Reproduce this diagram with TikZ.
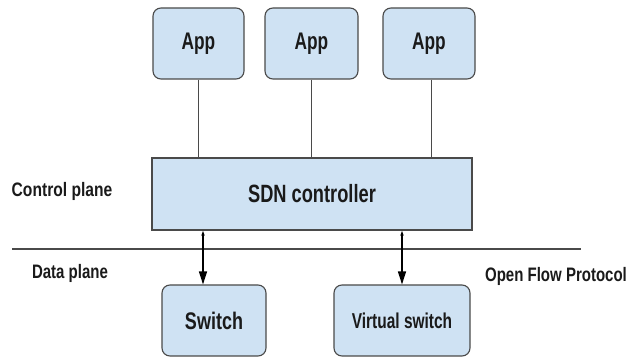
\documentclass[tikz,border=0pt]{standalone}
\usepackage{fontspec}
\setmainfont{Liberation Sans}
\usepackage{graphicx}
\usetikzlibrary{arrows.meta}

\definecolor{boxfill}{HTML}{CFE2F3}
\definecolor{boxline}{HTML}{4A4A4A}
\definecolor{labeltext}{HTML}{1A1A1A}

% bold, condensed text: size, horizontal scale, text
\newcommand{\sdnlabel}[3]{\scalebox{#2}[1]{\fontsize{#1}{#1}\selectfont\bfseries #3}}

\begin{document}
\begin{tikzpicture}[x=1pt,y=-1pt,
  appbox/.style={draw=boxline, fill=boxfill, line width=1.1pt, rounded corners=8pt,
    inner sep=0pt, text=labeltext, minimum height=71pt},
  ctrlbox/.style={draw=boxline, fill=boxfill, line width=1.1pt,
    inner sep=0pt, text=labeltext, minimum width=320pt, minimum height=72pt},
  plane/.style={text=labeltext, inner sep=0pt},
  applink/.style={draw=boxline, line width=0.7pt},
  flow/.style={line width=1.4pt, {Triangle[length=5pt,width=3pt]}-{Triangle[length=13pt,width=8pt]}}]
\useasboundingbox (0,0) rectangle (633,358);

% applications
\node[appbox, minimum width=91pt] (app1) at (198.5,43.5) {\sdnlabel{24}{0.72}{App}};
\node[appbox, minimum width=93pt] (app2) at (311.5,43.5) {\sdnlabel{24}{0.72}{App}};
\node[appbox, minimum width=92pt] (app3) at (429,43.5) {\sdnlabel{24}{0.72}{App}};

% controller
\node[ctrlbox] (ctrl) at (312,194) {\sdnlabel{25}{0.73}{SDN controller}};

% switches
\node[appbox, minimum width=104pt] (sw) at (214,320.5) {\sdnlabel{24}{0.75}{Switch}};
\node[appbox, minimum width=136pt] (vsw) at (402,320.5) {\sdnlabel{21.5}{0.72}{Virtual switch}};

% plane labels
\node[plane] (cplane) at (62,191) {\sdnlabel{19.5}{0.8}{Control plane}};
\node[plane] (dplane) at (70,273) {\sdnlabel{19.5}{0.77}{Data plane}};
\node[plane] (ofp) at (556,276) {\sdnlabel{19.5}{0.77}{Open Flow Protocol}};

% divider between the planes
\coordinate (divl) at (12,249);
\coordinate (divr) at (581,249);
\draw[boxline, line width=1.3pt] (divl) -- (divr);

% apps to controller
\draw[applink] (app1.south) -- (app1.south |- ctrl.north);
\draw[applink] (app2.south) -- (app2.south |- ctrl.north);
\draw[applink] ([xshift=2pt]app3.south) -- ([xshift=2pt]app3.south |- ctrl.north);

% controller to switches
\draw[flow] ([xshift=-11pt]sw.north |- ctrl.south) -- ([xshift=-11pt]sw.north);
\draw[flow] (vsw.north |- ctrl.south) -- (vsw.north);
\end{tikzpicture}
\end{document}
